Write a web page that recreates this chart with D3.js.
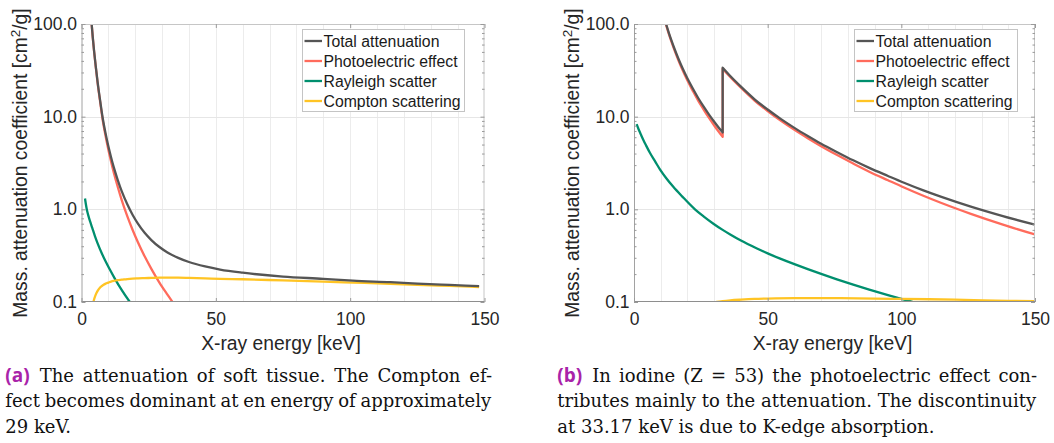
<!DOCTYPE html>
<html>
<head>
<meta charset="utf-8">
<script src="https://cdn.jsdelivr.net/npm/d3@7"></script>
<style>
  html, body { margin: 0; padding: 0; background: #fff; }
  svg { display: block; }
</style>
</head>
<body>
<svg id="fig" width="1054" height="443"></svg>
<script>
// ---- Soft tissue: mass attenuation coefficients [cm^2/g] vs X-ray energy [keV] ----
const tissueTotalE = [3.5, 3.8, 4.2, 4.7, 5.3, 6, 7, 8, 9, 10, 11, 12, 13.5, 15, 17, 19, 21, 23.5, 26, 29, 32, 36, 40, 46, 51.6, 60, 75, 90, 101, 115, 125, 137, 148];
const tissueTotalV = [126.8, 98.5, 71.7, 50.7, 35.1, 23.6, 14.5, 9.26, 6.52, 4.79, 3.65, 2.85, 2.07, 1.56, 1.14, 0.874, 0.701, 0.558, 0.466, 0.392, 0.343, 0.299, 0.270, 0.242, 0.224, 0.207, 0.188, 0.178, 0.170, 0.1635, 0.158, 0.153, 0.1485];
const tissuePhotoE = [3.5, 3.8, 4.2, 4.7, 5.3, 6, 7, 8, 9, 10, 11, 12, 13.5, 15, 17, 19, 21, 23.5, 26, 29, 32, 34, 36];
const tissuePhotoV = [126, 97.8, 71, 50, 34.5, 23, 14, 8.8, 6.10, 4.40, 3.28, 2.50, 1.74, 1.25, 0.85, 0.602, 0.441, 0.311, 0.228, 0.162, 0.12, 0.099, 0.083];
const tissueRayleighE = [1.3, 1.6, 2, 2.6, 3.2, 4, 5, 6, 7.5, 9, 10.4, 12.4, 15, 18, 19];
const tissueRayleighV = [1.31, 1.15, 0.99, 0.845, 0.74, 0.63, 0.515, 0.43, 0.338, 0.273, 0.228, 0.179, 0.134, 0.1, 0.0915];
const tissueComptonE = [4.2, 4.7, 5.3, 6, 7, 8, 9, 10, 11, 12, 13.5, 15, 17, 19, 21, 23.5, 26, 29, 32, 36, 40, 46, 51.6, 60, 75, 90, 101, 115, 125, 137, 148];
const tissueComptonV = [0.094, 0.107, 0.12, 0.132, 0.144, 0.152, 0.158, 0.162, 0.166, 0.169, 0.172, 0.174, 0.177, 0.179, 0.18, 0.181, 0.182, 0.183, 0.183, 0.183, 0.182, 0.18, 0.178, 0.176, 0.171, 0.166, 0.162, 0.157, 0.153, 0.149, 0.145];

// ---- Iodine (Z = 53), K-edge at 33.17 keV ----
const iodineTotalE = [11.5, 12, 13, 14, 15, 16.5, 18, 20, 22, 24, 26, 28, 30, 31.5, 33.17, 33.17, 36, 40, 45, 50, 55, 60, 65, 70, 76, 82, 88, 95, 101, 108, 115, 126, 138, 150];
const iodineTotalV = [111.9, 100, 80.9, 66.5, 55.4, 43.0, 34.1, 25.8, 20.1, 15.9, 12.9, 10.6, 8.82, 7.75, 6.76, 33.7, 27.44, 21.07, 15.5, 11.94, 9.4, 7.57, 6.19, 5.11, 4.14, 3.38, 2.80, 2.29, 1.935, 1.61, 1.36, 1.068, 0.844, 0.683];
const iodinePhotoE = iodineTotalE;
const iodinePhotoV = [109.6, 97.8, 78.8, 64.6, 53.6, 41.4, 32.6, 24.5, 19.0, 14.9, 12.0, 9.74, 8.03, 7.0, 6.06, 33.0, 26.8, 20.5, 15.0, 11.5, 9.0, 7.2, 5.85, 4.8, 3.85, 3.12, 2.55, 2.06, 1.72, 1.41, 1.17, 0.894, 0.684, 0.535];
const iodineRayleighE = [1, 1.5, 2, 2.7, 3.5, 4.5, 6, 8, 9.7, 12, 14.7, 18, 22.8, 26, 29.7, 33.17, 36, 40, 46, 50, 54.7, 60, 65, 70, 75.9, 82, 88, 95, 100, 104.4, 108];
const iodineRayleighV = [8.3, 7.6, 7.0, 6.3, 5.6, 4.9, 4.05, 3.25, 2.7, 2.18, 1.75, 1.38, 1.0, 0.84, 0.70, 0.60, 0.535, 0.46, 0.378, 0.335, 0.294, 0.256, 0.226, 0.2008, 0.1757, 0.154, 0.136, 0.1185, 0.108, 0.1, 0.094];
const iodineComptonE = [26, 28, 31, 33.17, 36, 40, 45, 50, 60, 75, 90, 100, 120, 140, 150];
const iodineComptonV = [0.093, 0.096, 0.1, 0.102, 0.104, 0.106, 0.108, 0.109, 0.110, 0.110, 0.109, 0.108, 0.106, 0.103, 0.102];

// ---- Axes ----
const energyDomain = [0, 150];
const coeffDomain = [0.1, 100];
const energyTicks = [0, 50, 100, 150];
const energyGrid = [10, 20, 30, 40, 50, 60, 70, 80, 90, 100, 110, 120, 130, 140];
const coeffTicks = [0.1, 1, 10, 100];

const seriesNames = ["Total attenuation", "Photoelectric effect", "Rayleigh scatter", "Compton scattering"];
const seriesColors = ["#555555", "#ff6b5c", "#008f6e", "#ffc424"];

const captionA = ["The attenuation of soft tissue. The Compton ef-",
                  "fect becomes dominant at en energy of approximately",
                  "29 keV."];
const captionB = ["In iodine (Z = 53) the photoelectric effect con-",
                  "tributes mainly to the attenuation. The discontinuity",
                  "at 33.17 keV is due to K-edge absorption."];

const SANS = "'Liberation Sans', Arial, Helvetica, sans-serif";
const SERIF = "'DejaVu Serif', 'Liberation Serif', serif";
const svg = d3.select("#fig");

function drawPanel(p, id) {
  const x = d3.scaleLinear().domain(energyDomain).range([p.x0, p.x1]);
  const y = d3.scaleLog().domain(coeffDomain).range([p.y1, p.y0]);
  const g = svg.append("g");

  // grid: minor vertical every 10 keV, horizontal at decades
  g.append("g").selectAll("line").data(energyGrid).join("line")
    .attr("x1", d => Math.round(x(d)) + 0.5).attr("x2", d => Math.round(x(d)) + 0.5)
    .attr("y1", p.y0).attr("y2", p.y1)
    .attr("stroke", "#ececec").attr("stroke-width", 1);
  g.append("g").selectAll("line").data(coeffTicks.slice(1, -1)).join("line")
    .attr("x1", p.x0).attr("x2", p.x1)
    .attr("y1", d => Math.round(y(d)) + 0.5).attr("y2", d => Math.round(y(d)) + 0.5)
    .attr("stroke", "#e6e6e6").attr("stroke-width", 1);

  // curves
  const clipId = "clip-" + id;
  svg.append("clipPath").attr("id", clipId).append("rect")
    .attr("x", p.x0).attr("y", p.y0).attr("width", p.x1 - p.x0).attr("height", p.y1 - p.y0);
  const line = d3.line().x(d => x(d[0])).y(d => y(d[1])).curve(d3.curveMonotoneX);
  // smooth pieces, joined straight across an absorption edge (repeated energy)
  function edgePath(E, V) {
    const pts = E.map((e, i) => [e, V[i]]);
    const pieces = [];
    let cur = [pts[0]];
    for (let i = 1; i < pts.length; i++) {
      if (pts[i][0] <= pts[i - 1][0]) { pieces.push(cur); cur = []; }
      cur.push(pts[i]);
    }
    pieces.push(cur);
    return pieces.map((pc, i) => { const d = line(pc); return i === 0 ? d : "L" + d.slice(1); }).join("");
  }
  const curves = g.append("g").attr("clip-path", `url(#${clipId})`)
    .attr("fill", "none").attr("stroke-width", 2.3)
    .attr("stroke-linejoin", "round").attr("stroke-linecap", "butt");
  // components first, total on top
  [1, 2, 3, 0].forEach(k => {
    curves.append("path").attr("d", edgePath(p.series[k][0], p.series[k][1]))
      .attr("stroke", seriesColors[k]);
  });

  // box
  g.append("line").attr("x1", p.x0).attr("x2", p.x1).attr("y1", p.y0 + 0.5).attr("y2", p.y0 + 0.5).attr("stroke", "#c6c6c6");
  g.append("line").attr("x1", p.x1 - 0.5).attr("x2", p.x1 - 0.5).attr("y1", p.y0).attr("y2", p.y1).attr("stroke", "#c6c6c6");
  g.append("line").attr("x1", p.x0 + 0.5).attr("x2", p.x0 + 0.5).attr("y1", p.y0).attr("y2", p.y1).attr("stroke", "#a2a2a2");
  g.append("line").attr("x1", p.x0).attr("x2", p.x1).attr("y1", p.y1 - 0.5).attr("y2", p.y1 - 0.5).attr("stroke", "#8e8e8e");

  // ticks and labels
  const minor = [];
  [0.1, 1, 10].forEach(dec => { for (let m = 2; m <= 9; m++) minor.push(dec * m); });
  const styleAxis = sel => {
    sel.select(".domain").remove();
    sel.selectAll("line").attr("stroke", "#9a9a9a");
    sel.selectAll("text").attr("font-family", SANS).attr("font-size", 17.5).attr("fill", "#262626");
  };
  g.append("g").attr("transform", `translate(0,${p.y1})`)
    .call(d3.axisBottom(x).tickValues(energyTicks).tickSizeInner(-4).tickSizeOuter(0).tickPadding(11).tickFormat(d3.format("d")))
    .call(styleAxis);
  g.append("g").attr("transform", `translate(0,${p.y0})`)
    .call(d3.axisTop(x).tickValues(energyTicks).tickSizeInner(-4).tickSizeOuter(0).tickFormat(""))
    .call(styleAxis);
  g.append("g").attr("transform", `translate(${p.x0},0)`)
    .call(d3.axisLeft(y).tickValues(coeffTicks).tickSizeInner(-4).tickSizeOuter(0).tickPadding(4.5).tickFormat(d3.format(".1f")))
    .call(styleAxis);
  g.append("g").attr("transform", `translate(${p.x0},0)`)
    .call(d3.axisLeft(y).tickValues(minor).tickSizeInner(-2.5).tickSizeOuter(0).tickFormat(""))
    .call(styleAxis);
  g.append("g").attr("transform", `translate(${p.x1},0)`)
    .call(d3.axisRight(y).tickValues(coeffTicks).tickSizeInner(-4).tickSizeOuter(0).tickFormat(""))
    .call(styleAxis);
  g.append("g").attr("transform", `translate(${p.x1},0)`)
    .call(d3.axisRight(y).tickValues(minor).tickSizeInner(-2.5).tickSizeOuter(0).tickFormat(""))
    .call(styleAxis);

  // axis titles
  g.append("text")
    .attr("x", (p.x0 + p.x1) / 2 - 2).attr("y", 350)
    .attr("text-anchor", "middle").attr("font-family", SANS).attr("font-size", 19.3).attr("fill", "#262626")
    .text("X-ray energy [keV]");
  const yt = g.append("text")
    .attr("transform", `translate(${p.ylabelX},${(p.y0 + p.y1) / 2}) rotate(-90)`)
    .attr("text-anchor", "middle").attr("font-family", SANS).attr("font-size", 19.3).attr("fill", "#262626");
  yt.append("tspan").text("Mass. attenuation coefficient [cm");
  yt.append("tspan").attr("font-size", 13.5).attr("dy", -7).text("2");
  yt.append("tspan").attr("dy", 7).text("/g]");

  // legend
  const lg = g.append("g").attr("transform", `translate(${p.legX},${p.legY})`);
  lg.append("rect").attr("x", 0.5).attr("y", 0.5).attr("width", p.legW).attr("height", 82)
    .attr("fill", "#fff").attr("stroke", "#c4c4c4");
  seriesNames.forEach((name, i) => {
    const ry = 12 + 20 * i;
    lg.append("line").attr("x1", 2.5).attr("x2", 20).attr("y1", ry).attr("y2", ry)
      .attr("stroke", seriesColors[i]).attr("stroke-width", 2.3);
    lg.append("text").attr("x", 21.5).attr("y", ry).attr("dy", "0.36em")
      .attr("font-family", SANS).attr("font-size", 15.8).attr("fill", "#1a1a1a").text(name);
  });
}

function drawCaption(label, lines, left, right) {
  const baselines = [381.5, 407, 432.5];
  lines.forEach((ln, i) => {
    const t = svg.append("text").attr("x", left).attr("y", baselines[i])
      .attr("font-family", SERIF).attr("font-size", 18).attr("fill", "#111");
    if (i === 0) {
      t.append("tspan").attr("font-family", "'Open Sans', Lato, 'DejaVu Sans', sans-serif")
        .attr("font-weight", 700).attr("font-size", 19).attr("fill", "#a923a9").text(label);
      t.append("tspan").attr("dx", 10).text(ln);
    } else {
      t.text(ln);
    }
    if (i < lines.length - 1) {
      const w = t.node().getBBox().width;
      const spaces = (ln.match(/ /g) || []).length;
      t.style("word-spacing", ((right - left - w) / spaces) + "px");
    }
  });
}

drawPanel({
  x0: 81.5, x1: 484.5, y0: 24, y1: 302, ylabelX: 27,
  legX: 302, legY: 29, legW: 162,
  series: [[tissueTotalE, tissueTotalV], [tissuePhotoE, tissuePhotoV],
           [tissueRayleighE, tissueRayleighV], [tissueComptonE, tissueComptonV]]
}, "a");
drawPanel({
  x0: 634, x1: 1035, y0: 24, y1: 302, ylabelX: 579,
  legX: 854, legY: 29, legW: 163,
  series: [[iodineTotalE, iodineTotalV], [iodinePhotoE, iodinePhotoV],
           [iodineRayleighE, iodineRayleighV], [iodineComptonE, iodineComptonV]]
}, "b");

drawCaption("(a)", captionA, 5.3, 492);
drawCaption("(b)", captionB, 557.3, 1037);
</script>
</body>
</html>
